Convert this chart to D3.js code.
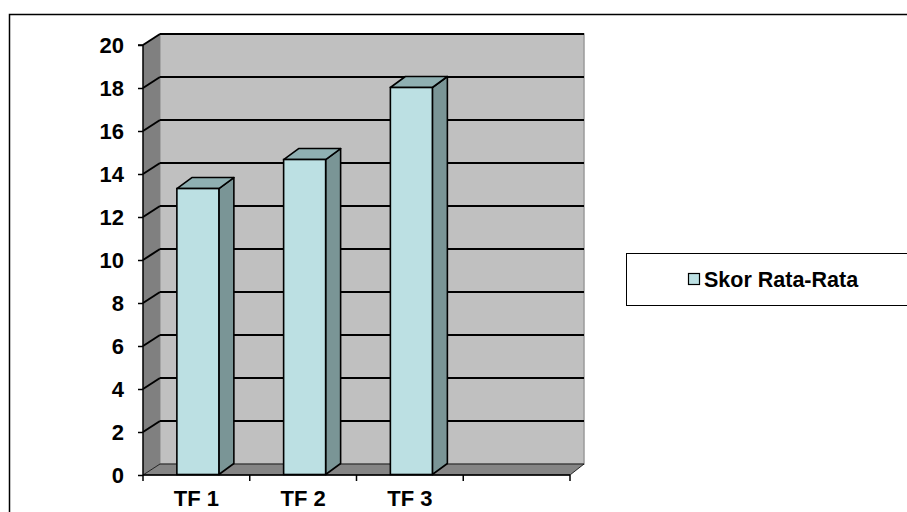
<!DOCTYPE html>
<html>
<head>
<meta charset="utf-8">
<script src="https://cdn.jsdelivr.net/npm/d3@7"></script>
<style>
  html, body { margin: 0; padding: 0; background: #fff; }
  svg { display: block; }
  text { font-family: "Liberation Sans", Arial, sans-serif; font-weight: bold; fill: #000; }
</style>
</head>
<body>
<svg id="chart" width="907" height="512"></svg>
<script>
// Average score per test form
const categories = ["TF 1", "TF 2", "TF 3", ""];
const values = [13.3, 14.65, 18.0];
const yTicks = [0, 2, 4, 6, 8, 10, 12, 14, 16, 18, 20];
const seriesName = "Skor Rata-Rata";

const svg = d3.select("#chart");
const W = 907, H = 512;

// Front plane of the 3D box and the depth offset to the back wall
const front = { left: 143, right: 570, bottom: 475, top: 45 };
const back = { left: 160, right: 584 };
const depthY = -11;

const y = d3.scaleLinear().domain([0, 20]).range([front.bottom, front.top]);
const x = d3.scaleBand().domain(categories).range([front.left, front.right]);

// Outer frame
svg.append("rect")
  .attr("x", 9.5).attr("y", 14.5)
  .attr("width", W + 20).attr("height", H + 20)
  .attr("fill", "#fff").attr("stroke", "#000").attr("stroke-width", 1.5);

const g = svg.append("g");

// Back wall
g.append("polygon")
  .attr("points", [[back.left, y(20) + depthY], [back.right, y(20) + depthY],
                   [back.right, y(0) + depthY], [back.left, y(0) + depthY]].join(" "))
  .attr("fill", "#c0c0c0").attr("stroke", "#9a9a9a").attr("stroke-width", 1.5);

// Left side wall
g.append("polygon")
  .attr("points", [[front.left, y(0)], [front.left, y(20)],
                   [back.left, y(20) + depthY], [back.left, y(0) + depthY]].join(" "))
  .attr("fill", "#808080");

// Floor
g.append("polygon")
  .attr("points", [[front.left, y(0)], [front.right, y(0)],
                   [back.right, y(0) + depthY], [back.left, y(0) + depthY]].join(" "))
  .attr("fill", "#858585").attr("stroke", "#000").attr("stroke-width", 0.8);

// Gridlines: along the back wall and across the side wall
const grid = yTicks.filter(v => v > 0);
g.selectAll("line.gback").data(grid).enter().append("line")
  .attr("x1", back.left).attr("x2", back.right)
  .attr("y1", d => y(d) + depthY).attr("y2", d => y(d) + depthY)
  .attr("stroke", "#000").attr("stroke-width", 2);
g.selectAll("line.gside").data(grid).enter().append("line")
  .attr("x1", front.left).attr("x2", back.left)
  .attr("y1", d => y(d)).attr("y2", d => y(d) + depthY)
  .attr("stroke", "#000").attr("stroke-width", 2);

// Bars drawn as 3D columns
const barW = 42, barDX = 15, barDY = -11, shiftX = 1.5, shiftY = -0.5;
const bars = g.selectAll("g.bar").data(values).enter().append("g");
bars.each(function (v, i) {
  const cx = x(categories[i]) + x.bandwidth() / 2 + shiftX;
  const x0 = cx - barW / 2, x1 = cx + barW / 2;
  const yb = y(0) + shiftY, yt = y(v) + shiftY;
  const s = d3.select(this);
  // side face
  s.append("polygon")
    .attr("points", [[x1, yb], [x1, yt], [x1 + barDX, yt + barDY], [x1 + barDX, yb + barDY]].join(" "))
    .attr("fill", "#7a9596").attr("stroke", "#000").attr("stroke-width", 1.6).attr("stroke-linejoin", "round");
  // top face
  s.append("polygon")
    .attr("points", [[x0, yt], [x1, yt], [x1 + barDX, yt + barDY], [x0 + barDX, yt + barDY]].join(" "))
    .attr("fill", "#8fb0b2").attr("stroke", "#000").attr("stroke-width", 1.6).attr("stroke-linejoin", "round");
  // front face
  s.append("rect")
    .attr("x", x0).attr("y", yt).attr("width", barW).attr("height", yb - yt)
    .attr("fill", "#bce0e3").attr("stroke", "#000").attr("stroke-width", 1.6);
});

// Value axis
const yAxis = d3.axisLeft(y).tickValues(yTicks).tickSize(5).tickPadding(14);
const ya = svg.append("g").attr("transform", `translate(${front.left},0)`).call(yAxis);
ya.attr("font-size", null).attr("font-family", null);
ya.select(".domain").attr("stroke", "#000").attr("stroke-width", 1.5).attr("d", `M-5,${y(20)}H0V${y(0)}`);
ya.selectAll(".tick line").attr("stroke", "#000").attr("stroke-width", 1.5);
ya.selectAll(".tick text").style("font-size", "22px").attr("dy", "0.36em");

// Category axis
svg.append("line")
  .attr("x1", front.left).attr("x2", front.right)
  .attr("y1", y(0)).attr("y2", y(0))
  .attr("stroke", "#000").attr("stroke-width", 1.5);
const edges = categories.map(c => x(c)).concat([front.right]);
svg.selectAll("line.xtick").data(edges).enter().append("line")
  .attr("x1", d => d).attr("x2", d => d)
  .attr("y1", y(0)).attr("y2", y(0) + 6)
  .attr("stroke", "#000").attr("stroke-width", 1.5);
svg.selectAll("text.xlab").data(categories.filter(c => c)).enter().append("text")
  .attr("x", d => x(d) + x.bandwidth() / 2)
  .attr("y", 506)
  .attr("text-anchor", "middle")
  .style("font-size", "22px")
  .text(d => d);

// Legend
const lg = svg.append("g");
lg.append("rect")
  .attr("x", 626.5).attr("y", 253.5).attr("width", 300).attr("height", 52)
  .attr("fill", "#fff").attr("stroke", "#000").attr("stroke-width", 1);
lg.append("rect")
  .attr("x", 688.5).attr("y", 273.5).attr("width", 11).attr("height", 11)
  .attr("fill", "#bce0e3").attr("stroke", "#000").attr("stroke-width", 1.2);
lg.append("text")
  .attr("x", 704).attr("y", 287)
  .style("font-size", "21.5px")
  .text(seriesName);
</script>
</body>
</html>
